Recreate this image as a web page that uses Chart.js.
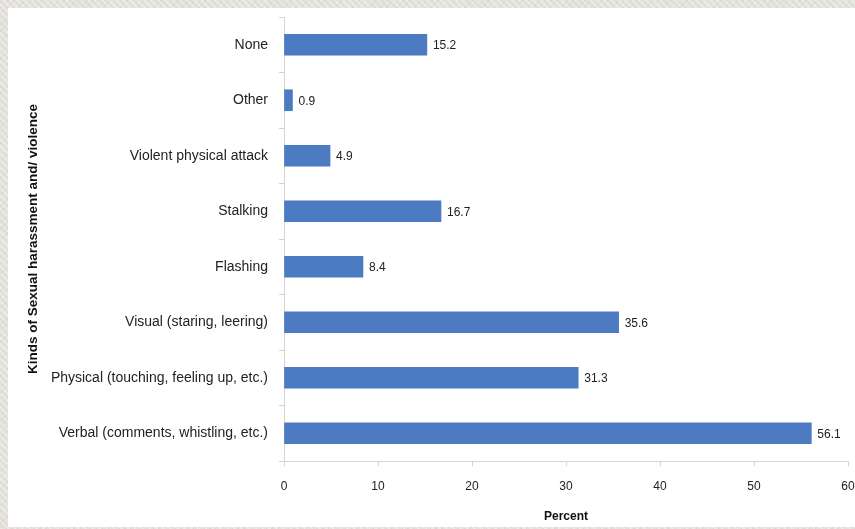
<!DOCTYPE html>
<html>
<head>
<meta charset="utf-8">
<script src="https://cdn.jsdelivr.net/npm/chart.js@4"></script>
<style>
  html,body{margin:0;padding:0;}
  body{
    width:855px;height:529px;overflow:hidden;
    background:#e4e1db;
    background-image:
      repeating-linear-gradient(45deg, rgba(255,255,255,.35) 0 2px, rgba(0,0,0,0) 2px 5px),
      repeating-linear-gradient(-45deg, rgba(0,0,0,.04) 0 1px, rgba(0,0,0,0) 1px 4px);
    position:relative;
  }
  #panel{position:absolute;left:8px;top:8px;width:847px;height:519px;background:#fff;}
</style>
</head>
<body>
<div id="panel"><canvas id="chart" width="847" height="519"></canvas></div>
<script>
// categories top to bottom, as shown
const categories = [
  'None',
  'Other',
  'Violent physical attack',
  'Stalking',
  'Flashing',
  'Visual (staring, leering)',
  'Physical (touching, feeling up, etc.)',
  'Verbal (comments, whistling, etc.)'
];
const percents = [15.2, 0.9, 4.9, 16.7, 8.4, 35.6, 31.3, 56.1];
const xTicks = [0, 10, 20, 30, 40, 50, 60];

const FONT = '"Liberation Sans", Arial, sans-serif';

// value labels at the end of each bar
const barLabels = {
  id:'barLabels',
  afterDatasetsDraw(chart){
    const {ctx} = chart;
    const meta = chart.getDatasetMeta(0);
    ctx.save();
    ctx.font = '12px ' + FONT;
    ctx.fillStyle = '#222';
    ctx.textAlign = 'left';
    ctx.textBaseline = 'middle';
    meta.data.forEach((bar, i) => {
      ctx.fillText(percents[i].toFixed(1), bar.x + 6, bar.y + 1);
    });
    ctx.restore();
  }
};

new Chart(document.getElementById('chart').getContext('2d'), {
  type:'bar',
  data:{
    labels: categories,
    datasets:[{
      data: percents,
      backgroundColor:'#4d7bc2',
      borderWidth:0,
      barThickness:21
    }]
  },
  options:{
    responsive:false, animation:false, indexAxis:'y',
    layout:{ padding:{ left:0, right:7, top:9, bottom:0 } },
    plugins:{ legend:{display:false}, tooltip:{enabled:false} },
    scales:{
      x:{
        min:0, max:60,
        afterBuildTicks: s => { s.ticks = xTicks.map(v => ({value:v})); },
        afterFit: s => { s.height = 66; s.paddingLeft = 0; s.paddingRight = 0; },
        ticks:{ color:'#222', font:{family:FONT, size:12}, padding:13 },
        grid:{ drawOnChartArea:false, color:'#d4d4d4', tickLength:5 },
        border:{ color:'#d4d4d4' },
        title:{ display:true, text:'Percent', color:'#111', font:{family:FONT, size:12, weight:'bold'}, padding:{top:4, bottom:3} }
      },
      y:{
        afterFit: s => { s.width = 276; s.paddingTop = 0; s.paddingBottom = 0; },
        ticks:{ color:'#222', font:{family:FONT, size:14}, padding:11 },
        grid:{ drawOnChartArea:false, color:'#d4d4d4', tickLength:5 },
        border:{ color:'#d4d4d4' },
        title:{ display:true, text:'Kinds of Sexual harassment and/ violence', color:'#111', font:{family:FONT, size:13.5, weight:'bold'}, padding:{top:17, bottom:4} }
      }
    }
  },
  plugins:[barLabels]
});
</script>
</body>
</html>
